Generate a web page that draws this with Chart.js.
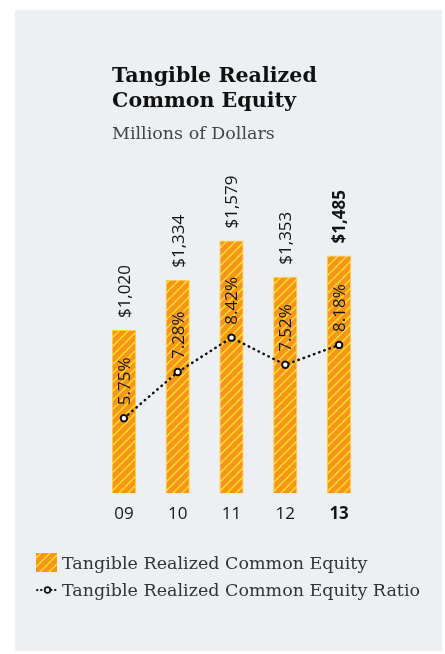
<!DOCTYPE html>
<html>
<head>
<meta charset="utf-8">
<script src="https://cdn.jsdelivr.net/npm/chart.js@4.4.1/dist/chart.umd.min.js"></script>
<style>
  html, body { margin: 0; padding: 0; background: #ffffff; }
  #wrap { position: relative; width: 445px; height: 654px; }
  #panel { position: absolute; left: 15px; top: 10px; width: 427px; height: 641px; background: #edf0f3; }
  canvas { position: absolute; left: 0; top: 0; }
</style>
</head>
<body>
<div id="wrap">
  <div id="panel"></div>
  <canvas id="chart1" width="445" height="654"></canvas>
</div>
<script>
// Tangible Realized Common Equity
const years = ['09', '10', '11', '12', '13'];
const equity = [1020, 1334, 1579, 1353, 1485];
const equityLabels = ['$1,020', '$1,334', '$1,579', '$1,353', '$1,485'];
const ratio = [5.75, 7.28, 8.42, 7.52, 8.18];
const ratioLabels = ['5.75%', '7.28%', '8.42%', '7.52%', '8.18%'];

const orange = '#f7941d';
const yellow = '#ffe01e';
const textColor = '#151515';

function makeHatch() {
    const s = 9;
    const c = document.createElement('canvas');
    c.width = s;
    c.height = s;
    const g = c.getContext('2d');
    g.fillStyle = orange;
    g.fillRect(0, 0, s, s);
    g.strokeStyle = yellow;
    g.lineWidth = 1.5;
    g.beginPath();
    g.moveTo(-2, s + 2); g.lineTo(s + 2, -2);
    g.moveTo(-2, 2); g.lineTo(2, -2);
    g.moveTo(s - 2, s + 2); g.lineTo(s + 2, s - 2);
    g.stroke();
    return g.createPattern(c, 'repeat');
}

const hatch = makeHatch();

// title, value labels and legend drawn on top
const extras = {
    id: 'extras',
    afterDatasetsDraw(chart) {
        const ctx = chart.ctx;
        const lineMeta = chart.getDatasetMeta(0);
        const barMeta = chart.getDatasetMeta(1);
        ctx.save();

        // dollar labels above bars
        barMeta.data.forEach((bar, i) => {
            ctx.save();
            ctx.translate(bar.x + 1, bar.y - 12);
            ctx.rotate(-Math.PI / 2);
            ctx.font = (i === 4 ? 'bold ' : '') + '17px "Open Sans"';
            ctx.fillStyle = textColor;
            ctx.textAlign = 'left';
            ctx.textBaseline = 'middle';
            ctx.fillText(equityLabels[i], 0, 0);
            ctx.restore();
        });

        // percent labels above points
        lineMeta.data.forEach((pt, i) => {
            ctx.save();
            ctx.translate(pt.x + 1, pt.y - 13);
            ctx.rotate(-Math.PI / 2);
            ctx.font = '17px "Open Sans"';
            ctx.fillStyle = textColor;
            ctx.textAlign = 'left';
            ctx.textBaseline = 'middle';
            ctx.fillText(ratioLabels[i], 0, 0);
            ctx.restore();
        });

        // title
        ctx.fillStyle = '#111';
        ctx.textAlign = 'left';
        ctx.textBaseline = 'alphabetic';
        ctx.font = 'bold 20.6px "DejaVu Serif"';
        ctx.fillText('Tangible Realized', 112, 82);
        ctx.fillText('Common Equity', 112, 107);
        ctx.fillStyle = '#444';
        ctx.font = '17.5px "DejaVu Serif"';
        ctx.fillText('Millions of Dollars', 112, 139);

        // legend
        ctx.fillStyle = hatch;
        ctx.fillRect(36, 553, 21, 19);
        ctx.fillStyle = '#333';
        ctx.font = '17.5px "DejaVu Serif"';
        ctx.fillText('Tangible Realized Common Equity', 62, 569);
        ctx.fillText('Tangible Realized Common Equity Ratio', 62, 596);
        ctx.strokeStyle = '#111';
        ctx.lineWidth = 2;
        ctx.lineCap = 'round';
        ctx.setLineDash([0.5, 3.5]);
        ctx.beginPath();
        ctx.moveTo(37, 590); ctx.lineTo(44, 590);
        ctx.moveTo(51, 590); ctx.lineTo(59, 590);
        ctx.stroke();
        ctx.setLineDash([]);
        ctx.lineWidth = 1.8;
        ctx.fillStyle = '#fff';
        ctx.beginPath();
        ctx.arc(47.5, 590, 2.8, 0, Math.PI * 2);
        ctx.fill();
        ctx.stroke();

        ctx.restore();
    }
};

const ctx = document.getElementById('chart1').getContext('2d');
const chart1 = new Chart(ctx, {
    data: {
        labels: years,
        datasets: [
            {
                type: 'line',
                label: 'Tangible Realized Common Equity Ratio',
                data: ratio,
                yAxisID: 'y2',
                borderColor: '#111',
                borderWidth: 2.5,
                borderDash: [0.5, 5],
                borderCapStyle: 'round',
                pointRadius: 3.2,
                pointBorderWidth: 2,
                pointBackgroundColor: '#fff',
                pointBorderColor: '#111',
                tension: 0,
                order: 0
            },
            {
                type: 'bar',
                label: 'Tangible Realized Common Equity',
                data: equity,
                yAxisID: 'y',
                backgroundColor: hatch,
                borderColor: '#ffcf3a',
                borderWidth: 1,
                barPercentage: 0.45,
                categoryPercentage: 1,
                order: 1
            }
        ]
    },
    options: {
        responsive: false,
        animation: false,
        layout: {
            padding: { left: 97, right: 79, top: 173, bottom: 128 }
        },
        plugins: {
            legend: { display: false },
            title: { display: false },
            tooltip: { enabled: false }
        },
        scales: {
            x: {
                grid: { display: false },
                border: { display: false },
                ticks: {
                    padding: 2,
                    color: textColor,
                    font: (c) => ({ family: 'Open Sans', size: 17, weight: c.index === 4 ? 'bold' : 'normal' })
                }
            },
            y: { display: false, min: 0, max: 2000 },
            y2: { display: false, min: 3.25, max: 13.88 }
        }
    },
    plugins: [extras]
});
</script>
</body>
</html>
